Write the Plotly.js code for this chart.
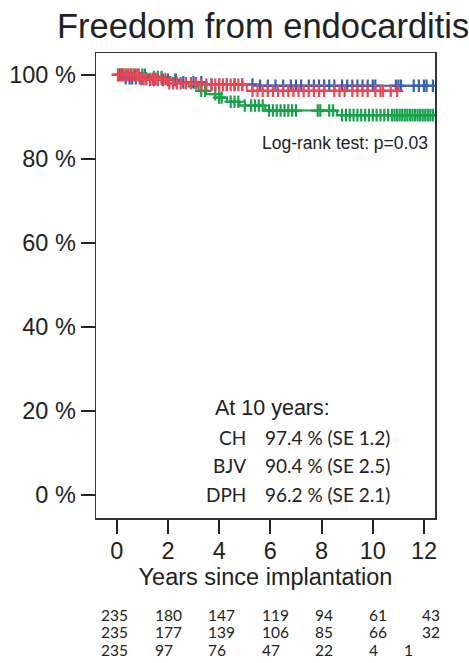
<!DOCTYPE html>
<html><head><meta charset="utf-8">
<script src="https://cdn.plot.ly/plotly-3.0.1.min.js"></script>
<style>html,body{margin:0;padding:0;background:#fff}#chart{width:469px;height:663px}</style>
</head><body><div id="chart"></div>
<script>
// Kaplan-Meier step curves (years, % event-free)
const chTimes  = [0, 0.3, 1.2, 2.4, 3.5, 5.5, 12.4];
const chSurv   = [100, 99.2, 98.8, 98.2, 97.7, 97.4, 97.4];
const dphTimes = [0, 0.9, 1.95, 3.25, 5.08, 11.0];
const dphSurv  = [100, 99.0, 98.0, 97.6, 96.2, 96.2];
const bjvTimes = [0, 1.2, 2.1, 2.5, 2.8, 3.2, 3.5, 4.0, 4.3, 4.8, 5.8, 8.6, 12.4];
const bjvSurv  = [100, 99.5, 98.8, 98.0, 97.2, 96.2, 95.4, 94.6, 93.6, 92.7, 91.5, 90.4, 90.4];

// censoring times (years)
const chCensor = [0.1,0.2,0.35,0.5,0.6,0.75,0.9,1.0,1.15,1.3,1.45,1.6,1.8,2.0,2.3,2.6,3.0,3.3,3.7,4.0,4.3,4.6,4.9,5.3,5.6,5.9,6.2,6.5,6.8,7.0,7.2,7.5,7.7,7.9,8.1,8.3,8.5,8.8,9.0,9.2,9.4,9.6,9.8,10.0,10.1,10.9,11.0,11.1,11.6,11.8,12.0,12.1,12.35];
const dphCensor = [0.05,0.15,0.25,0.35,0.45,0.55,0.65,0.75,0.85,0.95,1.05,1.15,1.3,1.4,1.5,1.6,1.75,1.9,2.05,2.2,2.35,2.5,2.7,2.9,3.1,3.3,3.5,3.7,3.85,4.0,4.15,4.3,4.45,4.6,4.75,4.9,5.3,5.5,5.7,5.9,6.1,6.3,6.5,6.7,6.9,7.1,7.3,7.5,7.7,7.9,8.1,8.5,8.7,8.9,9.2,9.4,9.6,9.8,10.1,10.3,10.4,10.7,10.95];
const bjvCensor = [0.05,0.15,0.25,0.35,0.45,0.55,0.7,0.85,1.0,1.1,1.45,1.6,1.75,2.3,3.3,3.45,3.85,4.0,4.1,4.45,4.6,4.75,5.0,5.25,5.4,5.55,5.7,5.95,6.1,6.25,6.4,6.55,6.7,6.85,7.0,7.85,7.95,8.3,8.45,8.8,8.95,9.1,9.25,9.4,9.55,9.7,9.85,10.0,10.15,10.3,10.45,10.6,10.75,10.85,10.95,11.05,11.15,11.25,11.35,11.45,11.55,11.65,11.75,11.85,11.95,12.05,12.15,12.25,12.35];

// at-10-year summary
const groups   = ["CH", "BJV", "DPH"];
const surv10   = ["97.4", "90.4", "96.2"];
const se10     = ["1.2", "2.5", "2.1"];

// numbers at risk (rows), at 0,2,4,6,8,10,12 years
const riskCH  = ["235","180","147","119","94","61","43"];
const riskBJV = ["235","177","139","106","85","66","32"];
const riskDPH = ["235","97","76","47","22","4","1"];

const xTicks = [0,2,4,6,8,10,12];
const yTicks = [0,20,40,60,80,100];

const colCH = "#3560b8", colBJV = "#17a24b", colDPH = "#ef4552";

function stepAt(times, surv, t){
  let v = surv[0];
  for (let i=0;i<times.length;i++){ if (times[i] <= t) v = surv[i]; }
  return v;
}
function curve(times, surv, color){
  return {x: times, y: surv, mode: "lines", line: {shape: "hv", color: color, width: 2}, hoverinfo: "skip", showlegend: false};
}
function censors(cens, times, surv, color){
  return {x: cens, y: cens.map(t => stepAt(times, surv, t)), mode: "markers",
    marker: {symbol: "cross-thin", size: 9, line: {color: color, width: 2.2}}, hoverinfo: "skip", showlegend: false};
}

const data = [
  curve(bjvTimes, bjvSurv, colBJV), censors(bjvCensor, bjvTimes, bjvSurv, colBJV),
  curve(chTimes, chSurv, colCH), censors(chCensor, chTimes, chSurv, colCH),
  curve(dphTimes, dphSurv, colDPH), censors(dphCensor, dphTimes, dphSurv, colDPH)
];

const ann = [];
ann.push({xref:"x", yref:"y", x:12.24, y:83.8, xanchor:"right", yanchor:"middle", showarrow:false,
  text:"Log-rank test: p=0.03", font:{family:"Liberation Sans, Arial", size:17.5, color:"#222"}});
ann.push({xref:"x", yref:"y", x:3.76, y:20.7, xanchor:"left", yanchor:"middle", showarrow:false,
  text:"At 10 years:", font:{family:"Liberation Sans, Arial", size:21.5, color:"#222"}});
const rowY = [13.6, 6.9, 0.1];
for (let i=0;i<groups.length;i++){
  ann.push({xref:"x", yref:"y", x:5.13, y:rowY[i], xanchor:"right", yanchor:"middle", showarrow:false,
    text:groups[i], font:{family:"Lato, Open Sans", size:19, color:"#222"}});
  ann.push({xref:"x", yref:"y", x:5.72, y:rowY[i], xanchor:"left", yanchor:"middle", showarrow:false,
    text:surv10[i] + " % (SE " + se10[i] + ")", font:{family:"Lato, Open Sans", size:19, color:"#222"}});
}
const riskCols = [-0.69, 1.42, 3.49, 5.6, 7.67, 9.78, 11.85];
const riskRows = [riskCH, riskBJV, riskDPH];
const riskY = [-0.209, -0.245, -0.284];
riskRows.forEach((row, r) => {
  row.forEach((v, c) => {
    let x = riskCols[c];
    if (r === 2 && c === 6) x = 11.14;
    ann.push({xref:"x", yref:"paper", x:x, y:riskY[r], xanchor:"left", yanchor:"middle", showarrow:false,
      text:v, font:{family:"Lato, Open Sans", size:15.5, color:"#222"}});
  });
});

const layout = {
  width: 469, height: 663,
  margin: {l:96, r:34, t:53, b:145, pad:0},
  paper_bgcolor: "#fff", plot_bgcolor: "#fff",
  title: {text: "Freedom from endocarditis", xref:"container", yref:"container", x: 57/469, xanchor:"left", y: 1-26/663, yanchor:"middle",
    font: {family:"Liberation Sans, Arial", size:34.5, color:"#222"}},
  xaxis: {range:[-0.81, 12.43], tickvals: xTicks, ticktext: xTicks.map(String), ticks:"outside", ticklen:14, tickwidth:2, tickcolor:"#222",
    showline:true, mirror:true, linecolor:"#333", linewidth:1.5, showgrid:false, zeroline:false, ticklabelstandoff:-3,
    tickfont:{family:"Liberation Sans, Arial", size:23.5, color:"#222"},
    title:{text:"Years since implantation", standoff:4, font:{family:"Liberation Sans, Arial", size:23.5, color:"#222"}}},
  yaxis: {range:[-5.5, 105.2], tickvals: yTicks, ticktext: yTicks.map(v => v + " %"), ticks:"outside", ticklen:14, tickwidth:2, tickcolor:"#222",
    showline:true, mirror:true, linecolor:"#333", linewidth:1.5, showgrid:false, zeroline:false,
    tickfont:{family:"Liberation Sans, Arial", size:23.5, color:"#222"}},
  annotations: ann
};

Plotly.newPlot("chart", data, layout, {displayModeBar:false, staticPlot:true});
</script></body></html>
